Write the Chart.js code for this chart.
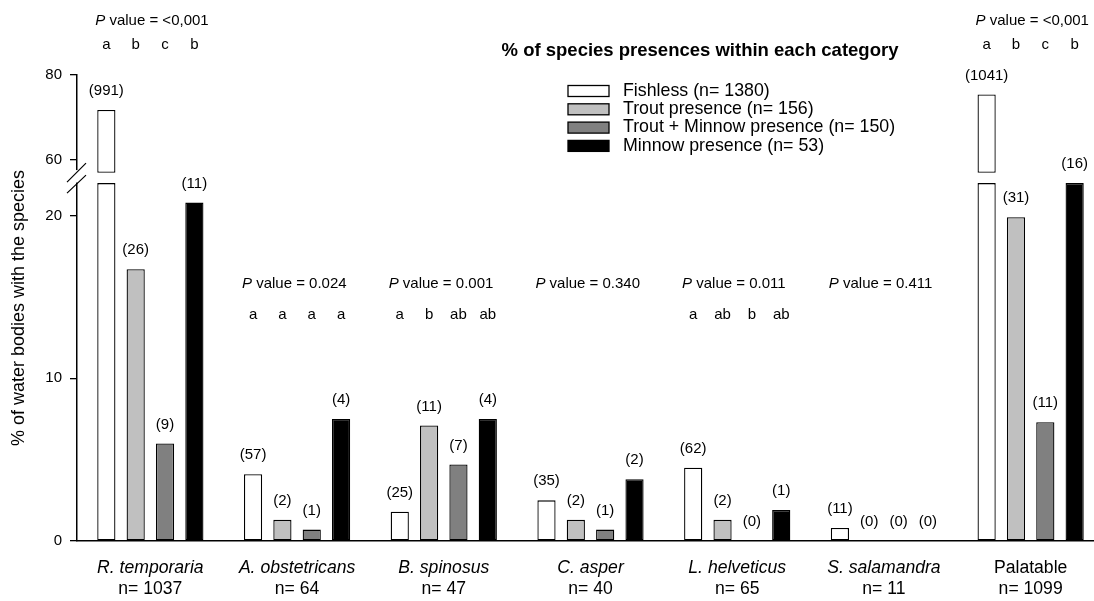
<!DOCTYPE html>
<html>
<head>
<meta charset="utf-8">
<script src="https://cdn.jsdelivr.net/npm/chart.js@4.4.1/dist/chart.umd.min.js"></script>
<style>
  html, body { margin: 0; padding: 0; background: #fff; overflow: hidden; }
  #wrap { position: relative; width: 1104px; height: 601px; }
</style>
</head>
<body>
<div id="wrap"><canvas id="c" width="1104" height="601"></canvas></div>
<script>
// Species groups and their sample sizes
const species = ['R. temporaria', 'A. obstetricans', 'B. spinosus', 'C. asper', 'L. helveticus', 'S. salamandra', 'Palatable'];
const speciesN = ['n= 1037', 'n= 64', 'n= 47', 'n= 40', 'n= 65', 'n= 11', 'n= 1099'];

// Fish-presence categories
const seriesNames = ['Fishless (n= 1380)', 'Trout presence (n= 156)', 'Trout + Minnow presence (n= 150)', 'Minnow presence (n= 53)'];

// % of water bodies with the species, per category
const fishless    = [71.8, 4.1, 1.8, 2.5, 4.5, 0.8, 75.4];
const trout       = [16.7, 1.3, 7.1, 1.3, 1.3, 0.0, 19.9];
const troutMinnow = [6.0, 0.7, 4.7, 0.7, 0.0, 0.0, 7.3];
const minnow      = [20.8, 7.5, 7.5, 3.8, 1.9, 0.0, 30.2];

// Number of water bodies with the species, per category
const fishlessCounts    = [991, 57, 25, 35, 62, 11, 1041];
const troutCounts       = [26, 2, 11, 2, 2, 0, 31];
const troutMinnowCounts = [9, 1, 7, 1, 0, 0, 11];
const minnowCounts      = [11, 4, 4, 2, 1, 0, 16];

// Test results per species group
const pValues = ['<0,001', '0.024', '0.001', '0.340', '0.011', '0.411', '<0,001'];
const groupLetters = [
  ['a', 'b', 'c', 'b'],
  ['a', 'a', 'a', 'a'],
  ['a', 'b', 'ab', 'ab'],
  [],
  ['a', 'ab', 'b', 'ab'],
  [],
  ['a', 'b', 'c', 'b']
];

// Axis ticks for the two parts of the broken value axis
const lowTicks = [0, 10, 20];
const highTicks = [60, 80];

// Broken axis: lower part 0..LOW_MAX, upper part HIGH_MIN..HIGH_MAX
const LOW_MAX = 22;
const HIGH_MIN = 54.6;
const HIGH_MAX = 80;
const HIGH_BASE = 57;   // where the upper piece of a broken bar starts

const seriesValues = [fishless, trout, troutMinnow, minnow];
const seriesCounts = [fishlessCounts, troutCounts, troutMinnowCounts, minnowCounts];
const seriesColors = ['#ffffff', '#c0c0c0', '#808080', '#000000'];

const FONT = "'Liberation Sans', Arial, sans-serif";

const barStyle = (i) => ({
  xAxisID: 'x',
  stack: 's' + i,
  backgroundColor: seriesColors[i],
  borderColor: '#000',
  borderWidth: 1.3,
  borderSkipped: false,
  categoryPercentage: 0.8,
  barPercentage: 0.62
});

const datasets = [];
seriesValues.forEach((vals, i) => {
  datasets.push(Object.assign({
    label: seriesNames[i],
    yAxisID: 'yLow',
    data: vals.map(v => Math.min(v, LOW_MAX))
  }, barStyle(i)));
});
seriesValues.forEach((vals, i) => {
  datasets.push(Object.assign({
    label: seriesNames[i],
    yAxisID: 'yHigh',
    data: vals.map(v => (v > HIGH_BASE ? [HIGH_BASE, v] : null))
  }, barStyle(i)));
});

const isSpecies = (name) => /^[A-Z]\. /.test(name);

// Axis break marks, count labels, test annotations and the legend
const decorations = {
  id: 'decorations',
  afterDatasetsDraw(chart) {
    const ctx = chart.ctx;
    const area = chart.chartArea;
    const yHigh = chart.scales.yHigh;
    const L = area.left;
    const B = yHigh.bottom;

    // break in the value axis
    ctx.save();
    ctx.fillStyle = '#fff';
    ctx.fillRect(L - 4, B - 13, 8, 12.5);
    ctx.strokeStyle = '#000';
    ctx.lineWidth = 1.2;
    ctx.beginPath();
    ctx.moveTo(L - 10, B - 1); ctx.lineTo(L + 9, B - 20);
    ctx.moveTo(L - 10, B + 10); ctx.lineTo(L + 9, B - 8);
    ctx.stroke();
    ctx.restore();

    const lowMetas = [0, 1, 2, 3].map(i => chart.getDatasetMeta(i));
    const highMetas = [4, 5, 6, 7].map(i => chart.getDatasetMeta(i));

    ctx.save();
    ctx.fillStyle = '#000';
    ctx.textAlign = 'center';
    ctx.textBaseline = 'middle';
    ctx.font = '15px ' + FONT;
    // counts above each bar
    seriesValues.forEach((vals, s) => {
      vals.forEach((v, k) => {
        const lowBar = lowMetas[s].data[k];
        let top = lowBar.y;
        if (v > HIGH_BASE) top = highMetas[s].data[k].y;
        ctx.fillText('(' + seriesCounts[s][k] + ')', lowBar.x, top - 19);
      });
    });

    // P values and group letters
    species.forEach((name, k) => {
      const vals = seriesValues.map(a => a[k]);
      const tall = Math.max(...vals) > LOW_MAX;
      const pY = tall ? 21 : 284;
      const lY = tall ? 45 : 315;
      const firstBar = lowMetas[0].data[k];
      const startX = firstBar.x - firstBar.width / 2 - 2;
      ctx.textAlign = 'left';
      ctx.font = 'italic 15px ' + FONT;
      ctx.fillText('P', startX, pY);
      const pw = ctx.measureText('P').width;
      ctx.font = '15px ' + FONT;
      ctx.fillText(' value = ' + pValues[k], startX + pw, pY);
      ctx.textAlign = 'center';
      groupLetters[k].forEach((letter, s) => {
        ctx.fillText(letter, lowMetas[s].data[k].x, lY);
      });
    });

    // legend
    ctx.textAlign = 'center';
    ctx.font = 'bold 18.5px ' + FONT;
    ctx.fillText('% of species presences within each category', 700, 51);
    ctx.textAlign = 'left';
    ctx.font = '17.8px ' + FONT;
    seriesNames.forEach((name, i) => {
      const cy = 91 + i * 18.3;
      ctx.fillStyle = seriesColors[i];
      ctx.fillRect(568, cy - 5.5, 41, 11);
      ctx.strokeStyle = '#000';
      ctx.lineWidth = 1.3;
      ctx.strokeRect(568, cy - 5.5, 41, 11);
      ctx.fillStyle = '#000';
      ctx.fillText(name, 623, cy);
    });
    ctx.restore();
  }
};

const yAxisCommon = {
  type: 'linear',
  position: 'left',
  stack: 'y',
  stacked: false,
  weight: 0,
  grid: { display: true, drawOnChartArea: false, drawTicks: true, tickLength: 7, color: '#000', lineWidth: 1.3 },
  border: { display: true, color: '#000', width: 1.5 },
  ticks: { color: '#000', padding: 8, font: { family: FONT, size: 15 } },
  afterFit: (s) => { s.width = 47; }
};

new Chart(document.getElementById('c'), {
  type: 'bar',
  data: { labels: species, datasets },
  plugins: [decorations],
  options: {
    responsive: false,
    devicePixelRatio: 1,
    animation: false,
    layout: { padding: { top: 75, left: 0, right: 0, bottom: 0 } },
    plugins: { legend: { display: false }, tooltip: { enabled: false } },
    scales: {
      x: {
        type: 'category',
        position: 'bottom',
        weight: 0,
        offset: true,
        grid: { display: false, drawTicks: false },
        border: { display: true, color: '#000', width: 1.5 },
        ticks: {
          color: '#000',
          padding: 17,
          maxRotation: 0,
          autoSkip: false,
          font: (c) => ({ family: FONT, size: 17.6, style: isSpecies(species[c.index] || '') ? 'italic' : 'normal' })
        },
        afterFit: (s) => { s.height = 38; }
      },
      xN: {
        type: 'category',
        labels: speciesN,
        position: 'bottom',
        weight: 1,
        offset: true,
        grid: { display: false, drawTicks: false },
        border: { display: false },
        ticks: { color: '#000', padding: 0, maxRotation: 0, autoSkip: false, font: { family: FONT, size: 17.6 } },
        afterFit: (s) => { s.height = 22; }
      },
      yLow: Object.assign({}, yAxisCommon, {
        stackWeight: LOW_MAX * 16.25,
        min: 0,
        max: LOW_MAX,
        afterBuildTicks: (s) => { s.ticks = lowTicks.map(v => ({ value: v })); }
      }),
      yHigh: Object.assign({}, yAxisCommon, {
        stackWeight: (HIGH_MAX - HIGH_MIN) * 4.25,
        min: HIGH_MIN,
        max: HIGH_MAX,
        afterBuildTicks: (s) => { s.ticks = highTicks.map(v => ({ value: v })); }
      }),
      yTitle: {
        type: 'linear',
        position: 'left',
        weight: 1,
        min: 0,
        max: 1,
        grid: { display: false },
        border: { display: false },
        ticks: { display: false },
        title: {
          display: true,
          text: '% of water bodies with the species',
          color: '#000',
          font: { family: FONT, size: 18 },
          padding: { top: 8, bottom: 0 }
        },
        afterFit: (s) => { s.width = 30; }
      }
    }
  }
});
</script>
</body>
</html>
